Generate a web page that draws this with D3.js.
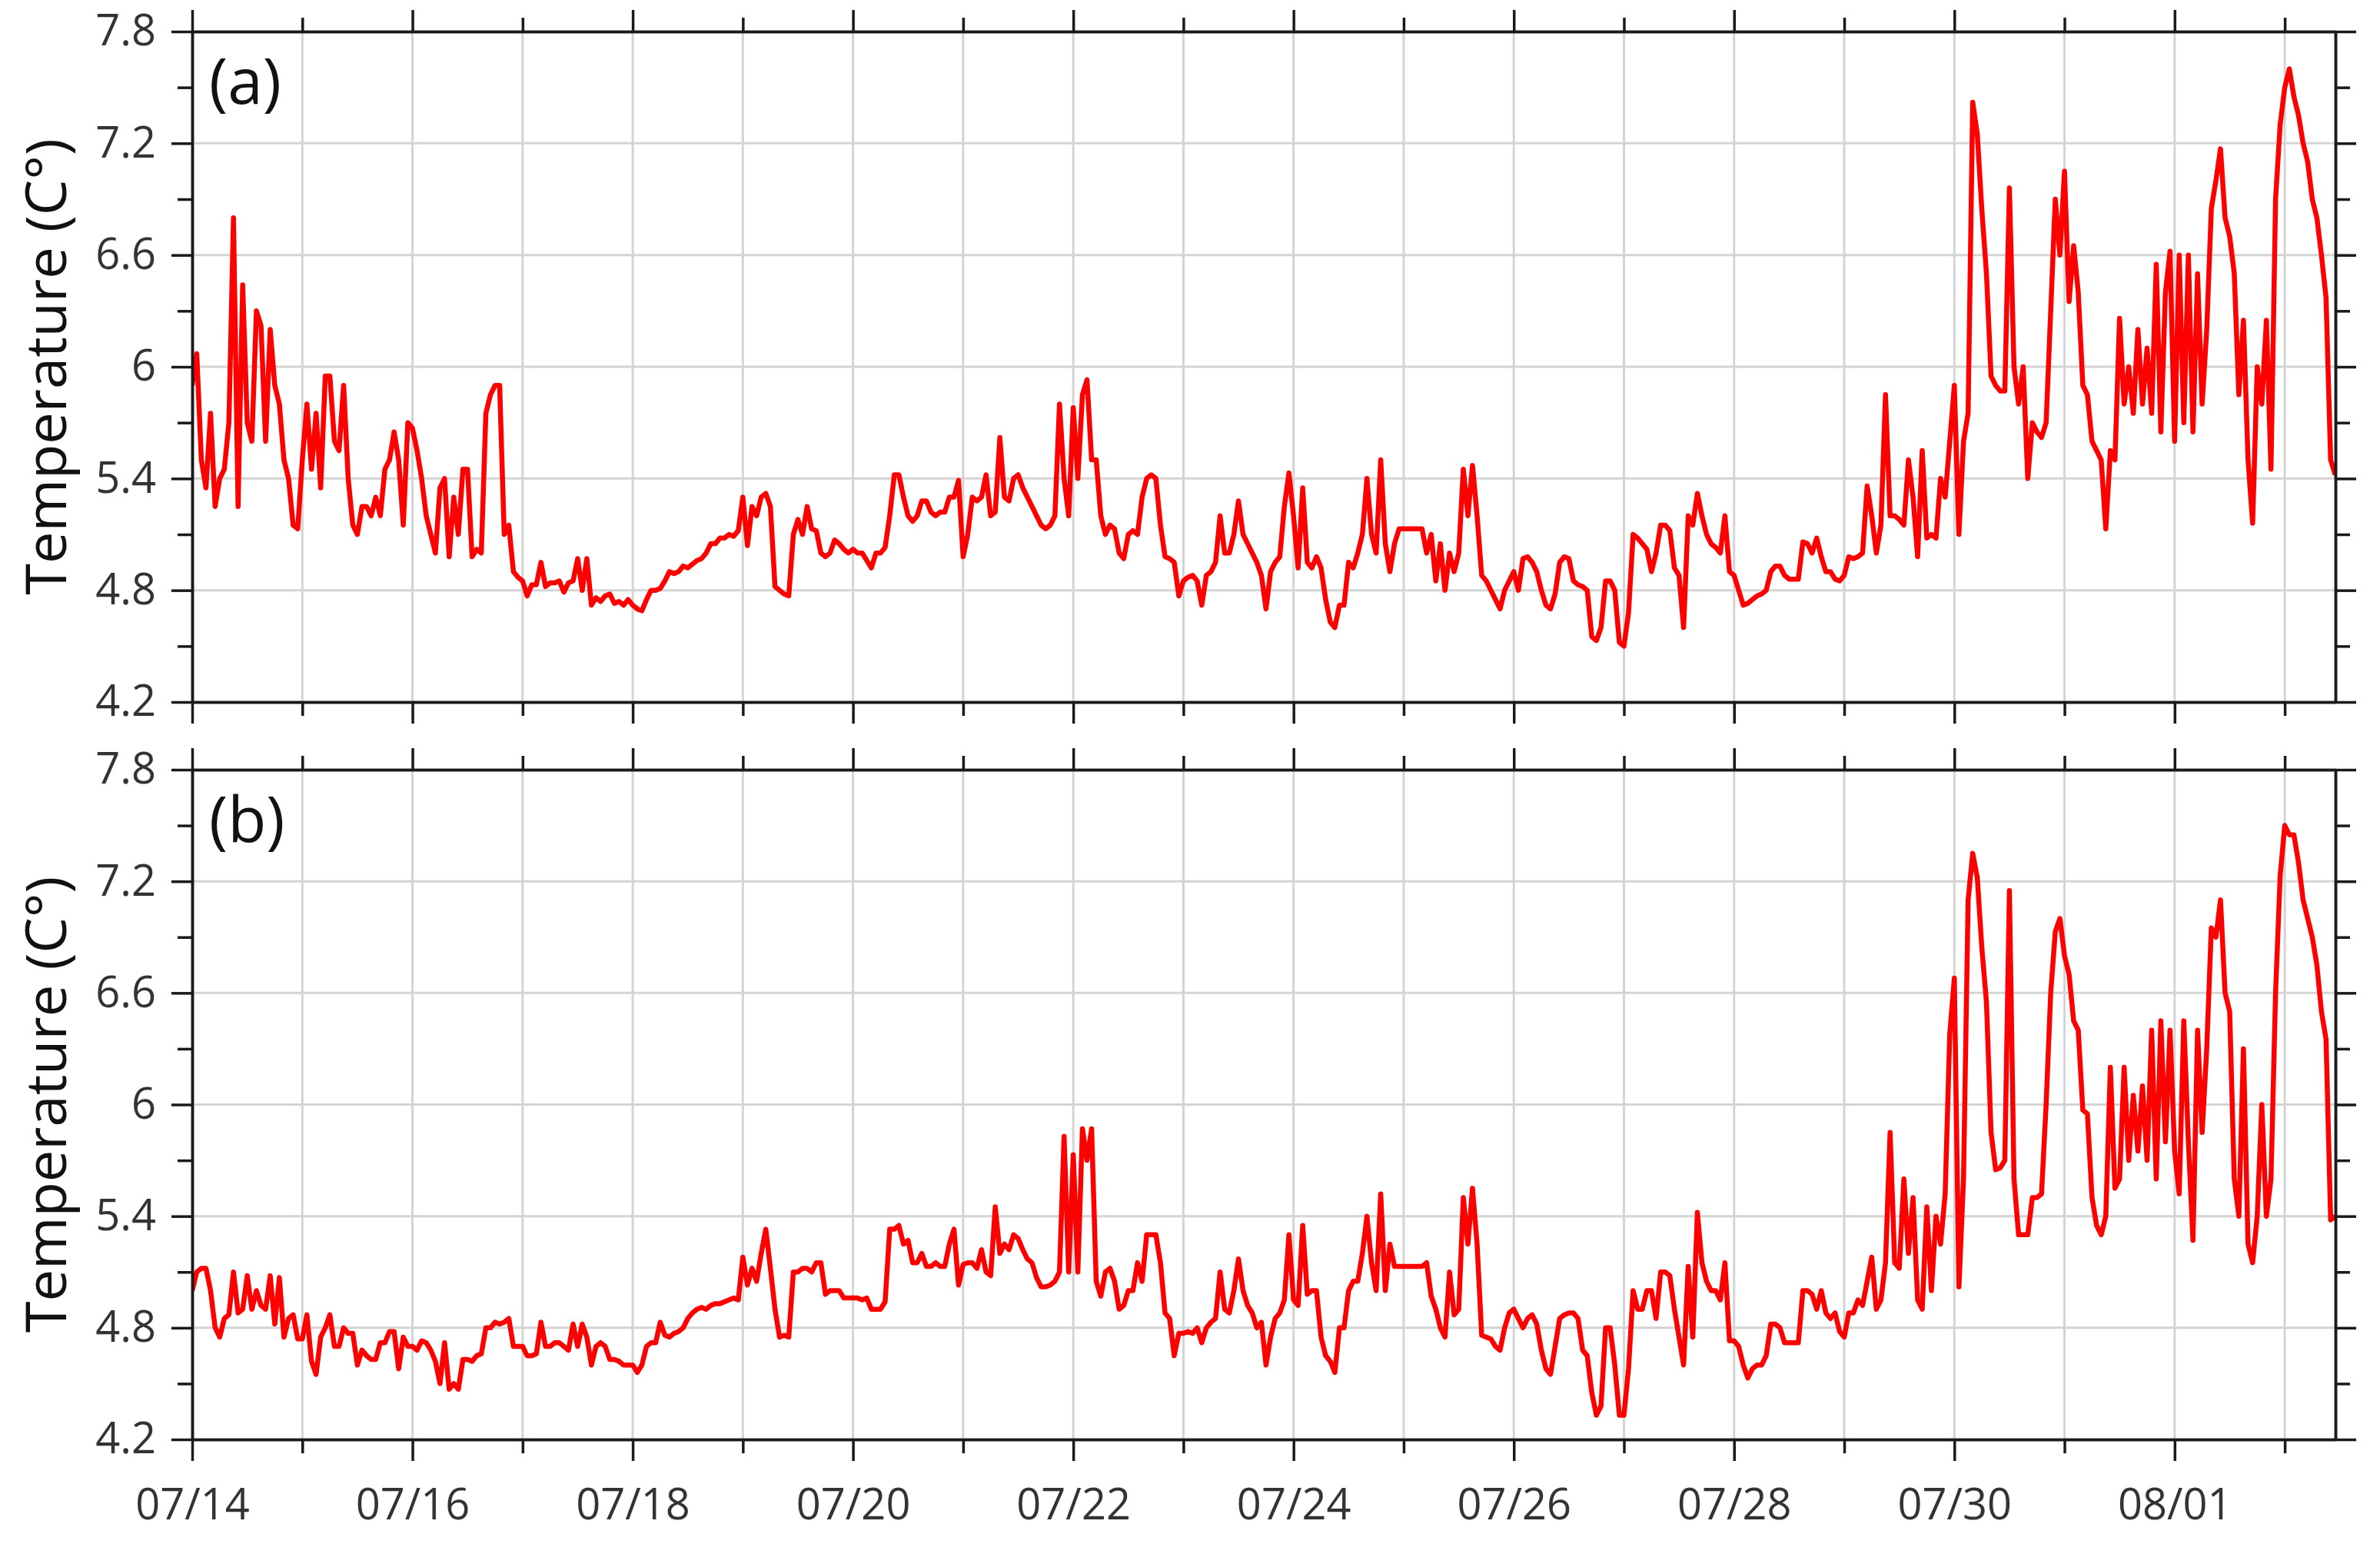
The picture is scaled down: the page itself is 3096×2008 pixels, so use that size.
<!DOCTYPE html>
<html>
<head>
<meta charset="utf-8">
<script src="https://cdn.jsdelivr.net/npm/d3@7"></script>
<style>
  html, body { margin: 0; padding: 0; background: #fff; }
  svg { display: block; font-family: "Open Sans", "Noto Sans", sans-serif; }
</style>
</head>
<body>
<svg id="chart" width="3096" height="2008"></svg>
<script>
// hourly readings, starting 07/14 00:00 (one row per day)
const startDate = Date.UTC(2019, 6, 14);
const stepHours = 1;
const endDays = 19.46;

const tempA = [
  5.9, 6.07, 5.5, 5.35, 5.75, 5.25, 5.4, 5.45, 5.7, 6.8, 5.25, 6.44, 5.7, 5.6, 6.3, 6.22, 5.6, 6.2, 5.9, 5.8, 5.5, 5.4, 5.15, 5.13,
  5.5, 5.8, 5.45, 5.75, 5.35, 5.95, 5.95, 5.6, 5.55, 5.9, 5.4, 5.15, 5.1, 5.25, 5.25, 5.2, 5.3, 5.2, 5.45, 5.5, 5.65, 5.5, 5.15, 5.7,
  5.67, 5.55, 5.4, 5.2, 5.1, 5.0, 5.35, 5.4, 4.98, 5.3, 5.1, 5.45, 5.45, 4.98, 5.02, 5.0, 5.75, 5.85, 5.9, 5.9, 5.1, 5.15, 4.9, 4.87,
  4.85, 4.77, 4.83, 4.83, 4.95, 4.82, 4.84, 4.84, 4.85, 4.79, 4.84, 4.85, 4.97, 4.8, 4.97, 4.72, 4.76, 4.74, 4.77, 4.78, 4.73, 4.74, 4.72, 4.75,
  4.72, 4.7, 4.69, 4.75, 4.8, 4.8, 4.81, 4.85, 4.9, 4.89, 4.9, 4.93, 4.92, 4.94, 4.96, 4.97, 5.0, 5.05, 5.05, 5.08, 5.08, 5.1, 5.09, 5.12,
  5.3, 5.04, 5.25, 5.2, 5.3, 5.32, 5.25, 4.82, 4.8, 4.78, 4.77, 5.1, 5.18, 5.1, 5.25, 5.13, 5.12, 5.0, 4.98, 5.0, 5.07, 5.05, 5.02, 5.0,
  5.02, 5.0, 5.0, 4.96, 4.92, 5.0, 5.0, 5.03, 5.2, 5.42, 5.42, 5.3, 5.2, 5.17, 5.2, 5.28, 5.28, 5.22, 5.2, 5.22, 5.22, 5.3, 5.3, 5.39,
  4.98, 5.1, 5.3, 5.28, 5.3, 5.42, 5.2, 5.22, 5.62, 5.3, 5.28, 5.4, 5.42, 5.35, 5.3, 5.25, 5.2, 5.15, 5.13, 5.15, 5.2, 5.8, 5.4, 5.2,
  5.78, 5.4, 5.85, 5.93, 5.5, 5.5, 5.2, 5.1, 5.15, 5.13, 5.0, 4.97, 5.1, 5.12, 5.1, 5.3, 5.4, 5.42, 5.4, 5.15, 4.98, 4.97, 4.95, 4.77,
  4.85, 4.87, 4.88, 4.85, 4.72, 4.88, 4.9, 4.95, 5.2, 5.0, 5.0, 5.1, 5.28, 5.1, 5.05, 5.0, 4.95, 4.88, 4.7, 4.9, 4.95, 4.98, 5.25, 5.43,
  5.2, 4.92, 5.35, 4.95, 4.92, 4.98, 4.92, 4.75, 4.63, 4.6, 4.72, 4.72, 4.95, 4.92, 5.0, 5.1, 5.4, 5.1, 5.0, 5.5, 5.05, 4.9, 5.05, 5.13,
  5.13, 5.13, 5.13, 5.13, 5.13, 5.0, 5.1, 4.85, 5.05, 4.8, 5.0, 4.9, 5.0, 5.45, 5.2, 5.47, 5.2, 4.88, 4.85, 4.8, 4.75, 4.7, 4.8, 4.85,
  4.9, 4.8, 4.97, 4.98, 4.95, 4.9, 4.8, 4.72, 4.7, 4.78, 4.95, 4.98, 4.97, 4.85, 4.83, 4.82, 4.8, 4.55, 4.53, 4.6, 4.85, 4.85, 4.8, 4.52,
  4.5, 4.68, 5.1, 5.08, 5.05, 5.02, 4.9, 5.0, 5.15, 5.15, 5.12, 4.92, 4.88, 4.6, 5.2, 5.15, 5.32, 5.2, 5.1, 5.05, 5.03, 5.0, 5.2, 4.9,
  4.88, 4.8, 4.72, 4.73, 4.75, 4.77, 4.78, 4.8, 4.9, 4.93, 4.93, 4.88, 4.86, 4.86, 4.86, 5.06, 5.05, 5.0, 5.08, 4.98, 4.9, 4.9, 4.86, 4.85,
  4.88, 4.98, 4.97, 4.98, 5.0, 5.36, 5.2, 5.0, 5.15, 5.85, 5.2, 5.2, 5.18, 5.15, 5.5, 5.3, 4.98, 5.55, 5.08, 5.1, 5.08, 5.4, 5.3, 5.6,
  5.9, 5.1, 5.6, 5.75, 7.42, 7.25, 6.84, 6.5, 5.95, 5.9, 5.87, 5.87, 6.96, 6.0, 5.8, 6.0, 5.4, 5.7, 5.65, 5.62, 5.7, 6.3, 6.9, 6.6,
  7.05, 6.35, 6.65, 6.4, 5.9, 5.85, 5.6, 5.55, 5.5, 5.13, 5.55, 5.5, 6.26, 5.8, 6.0, 5.75, 6.2, 5.8, 6.1, 5.75, 6.55, 5.65, 6.4, 6.62,
  5.6, 6.6, 5.7, 6.6, 5.65, 6.5, 5.8, 6.2, 6.85, 7.0, 7.17, 6.8, 6.7, 6.5, 5.85, 6.25, 5.5, 5.16, 6.0, 5.8, 6.25, 5.45, 6.9, 7.3,
  7.5, 7.6, 7.45, 7.35, 7.2, 7.1, 6.9, 6.8, 6.6, 6.37, 5.5, 5.42
];

const tempB = [
  5.0, 5.1, 5.12, 5.12, 5.0, 4.8, 4.75, 4.85, 4.87, 5.1, 4.88, 4.9, 5.08, 4.9, 5.0, 4.92, 4.9, 5.08, 4.82, 5.07, 4.75, 4.85, 4.87, 4.74,
  4.74, 4.87, 4.62, 4.55, 4.75, 4.8, 4.87, 4.7, 4.7, 4.8, 4.77, 4.77, 4.6, 4.68, 4.65, 4.63, 4.63, 4.72, 4.72, 4.78, 4.78, 4.58, 4.75, 4.7,
  4.7, 4.68, 4.73, 4.72, 4.68, 4.62, 4.5, 4.72, 4.47, 4.5, 4.47, 4.63, 4.63, 4.62, 4.65, 4.66, 4.8, 4.8, 4.83, 4.82, 4.83, 4.85, 4.7, 4.7,
  4.7, 4.65, 4.65, 4.66, 4.83, 4.7, 4.7, 4.72, 4.72, 4.7, 4.68, 4.82, 4.7, 4.82, 4.75, 4.6, 4.7, 4.72, 4.7, 4.63, 4.63, 4.62, 4.6, 4.6,
  4.6, 4.56, 4.6, 4.7, 4.72, 4.72, 4.83, 4.76, 4.75, 4.77, 4.78, 4.8, 4.85, 4.88, 4.9, 4.91, 4.9, 4.92, 4.93, 4.93, 4.94, 4.95, 4.96, 4.95,
  5.18, 5.03, 5.12, 5.05, 5.2, 5.33, 5.12, 4.9, 4.75, 4.76, 4.75, 5.1, 5.1, 5.12, 5.12, 5.1, 5.15, 5.15, 4.98, 5.0, 5.0, 5.0, 4.96, 4.96,
  4.96, 4.96, 4.95, 4.96, 4.9, 4.9, 4.9, 4.94, 5.33, 5.33, 5.35, 5.25, 5.27, 5.15, 5.15, 5.2, 5.13, 5.13, 5.15, 5.13, 5.13, 5.25, 5.33, 5.03,
  5.14, 5.15, 5.15, 5.12, 5.22, 5.1, 5.08, 5.45, 5.2, 5.25, 5.22, 5.3, 5.28, 5.22, 5.17, 5.15, 5.07, 5.02, 5.02, 5.03, 5.05, 5.1, 5.83, 5.1,
  5.73, 5.1, 5.87, 5.7, 5.87, 5.05, 4.97, 5.1, 5.12, 5.05, 4.9, 4.92, 5.0, 5.0, 5.15, 5.05, 5.3, 5.3, 5.3, 5.15, 4.88, 4.85, 4.65, 4.77,
  4.77, 4.78, 4.77, 4.8, 4.72, 4.8, 4.83, 4.85, 5.1, 4.9, 4.88, 5.0, 5.17, 5.0, 4.92, 4.88, 4.8, 4.83, 4.6, 4.75, 4.85, 4.88, 4.95, 5.3,
  4.95, 4.92, 5.35, 4.98, 5.0, 5.0, 4.75, 4.65, 4.62, 4.56, 4.8, 4.8, 5.0, 5.05, 5.05, 5.2, 5.4, 5.15, 5.0, 5.52, 5.0, 5.25, 5.13, 5.13,
  5.13, 5.13, 5.13, 5.13, 5.13, 5.15, 4.97, 4.9, 4.8, 4.75, 5.1, 4.87, 4.9, 5.5, 5.25, 5.55, 5.25, 4.76, 4.75, 4.74, 4.7, 4.68, 4.8, 4.88,
  4.9, 4.85, 4.8, 4.85, 4.87, 4.82, 4.68, 4.58, 4.55, 4.7, 4.85, 4.87, 4.88, 4.88, 4.85, 4.68, 4.65, 4.45, 4.33, 4.38, 4.8, 4.8, 4.6, 4.33,
  4.33, 4.58, 5.0, 4.9, 4.9, 5.0, 5.0, 4.85, 5.1, 5.1, 5.08, 4.9, 4.75, 4.6, 5.13, 4.75, 5.42, 5.15, 5.05, 5.0, 5.0, 4.95, 5.15, 4.73,
  4.73, 4.7, 4.6, 4.53, 4.58, 4.6, 4.6, 4.65, 4.82, 4.82, 4.8, 4.72, 4.72, 4.72, 4.72, 5.0, 5.0, 4.98, 4.9, 5.0, 4.88, 4.85, 4.88, 4.78,
  4.75, 4.88, 4.88, 4.95, 4.92, 5.05, 5.18, 4.9, 4.95, 5.15, 5.85, 5.15, 5.12, 5.6, 5.2, 5.5, 4.95, 4.9, 5.45, 5.0, 5.4, 5.25, 5.52, 6.38,
  6.68, 5.02, 5.6, 7.1, 7.35, 7.22, 6.84, 6.55, 5.85, 5.65, 5.66, 5.7, 7.15, 5.6, 5.3, 5.3, 5.3, 5.5, 5.5, 5.52, 6.0, 6.6, 6.93, 7.0,
  6.8, 6.7, 6.45, 6.4, 5.97, 5.95, 5.5, 5.35, 5.3, 5.4, 6.2, 5.55, 5.6, 6.2, 5.7, 6.05, 5.75, 6.1, 5.7, 6.4, 5.6, 6.45, 5.8, 6.4,
  5.75, 5.52, 6.45, 5.8, 5.27, 6.4, 5.85, 6.3, 6.95, 6.9, 7.1, 6.6, 6.5, 5.6, 5.4, 6.3, 5.25, 5.15, 5.4, 6.0, 5.4, 5.6, 6.6, 7.23,
  7.5, 7.45, 7.45, 7.3, 7.1, 7.0, 6.9, 6.75, 6.5, 6.35, 5.38, 5.4
];

const yTicks = [4.2, 4.8, 5.4, 6, 6.6, 7.2, 7.8];
const yMinor = [4.5, 5.1, 5.7, 6.3, 6.9, 7.5];
const panelLabels = ["(a)", "(b)"];
const yTitle = "Temperature (C\u00b0)";

const svg = d3.select("#chart");
const left = 250, right = 3038;
const panels = [
  { label: panelLabels[0], values: tempA, top: 41, bottom: 913 },
  { label: panelLabels[1], values: tempB, top: 1001, bottom: 1872 }
];

const hour = 3600 * 1000;
const x = d3.scaleUtc()
  .domain([new Date(startDate), new Date(startDate + endDays * 24 * hour)])
  .range([left, right]);

const days = d3.utcDay.range(new Date(startDate), x.domain()[1]);
const majorDays = days.filter((d, i) => i % 2 === 0);
const minorDays = days.filter((d, i) => i % 2 === 1);

function styleAxis(g) {
  g.selectAll("path.domain").attr("stroke", "#1a1a1a").attr("stroke-width", 3.5);
  g.selectAll(".tick line").attr("stroke", "#1a1a1a").attr("stroke-width", 3.5);
  g.selectAll(".tick text")
    .attr("fill", "#333")
    .attr("font-size", 56)
    .attr("font-family", "'Open Sans', sans-serif");
}

panels.forEach((p, pi) => {
  const y = d3.scaleLinear().domain([4.2, 7.8]).range([p.bottom, p.top]);
  const g = svg.append("g");

  // grid
  g.selectAll("line.vgrid")
    .data(days.slice(1))
    .join("line")
    .attr("x1", (d) => x(d))
    .attr("x2", (d) => x(d))
    .attr("y1", p.top)
    .attr("y2", p.bottom)
    .attr("stroke", "#d4d4d4")
    .attr("stroke-width", 3);

  g.selectAll("line.hgrid")
    .data(yTicks.slice(1, -1))
    .join("line")
    .attr("x1", left)
    .attr("x2", right)
    .attr("y1", (d) => y(d))
    .attr("y2", (d) => y(d))
    .attr("stroke", "#d4d4d4")
    .attr("stroke-width", 3);

  // data line
  const clipId = "clip" + pi;
  svg.append("clipPath").attr("id", clipId)
    .append("rect")
    .attr("x", left).attr("y", p.top)
    .attr("width", right - left).attr("height", p.bottom - p.top);

  const pts = p.values.map((v, i) => ({ t: new Date(startDate + i * stepHours * hour), v: v }));
  const line = d3.line().x((d) => x(d.t)).y((d) => y(d.v));
  g.append("path")
    .datum(pts)
    .attr("clip-path", "url(#" + clipId + ")")
    .attr("d", line)
    .attr("fill", "none")
    .attr("stroke", "#ff0000")
    .attr("stroke-width", 6.5)
    .attr("stroke-linejoin", "round");

  // axes: bottom
  const showLabels = pi === panels.length - 1;
  g.append("g")
    .attr("transform", `translate(0,${p.bottom})`)
    .call(d3.axisBottom(x).tickValues(minorDays).tickSize(18).tickSizeOuter(0).tickFormat(""))
    .call(styleAxis);
  g.append("g")
    .attr("transform", `translate(0,${p.bottom})`)
    .call(d3.axisBottom(x).tickValues(majorDays).tickSize(28).tickSizeOuter(0).tickPadding(36)
      .tickFormat(showLabels ? d3.utcFormat("%m/%d") : ""))
    .call(styleAxis);

  // top
  g.append("g")
    .attr("transform", `translate(0,${p.top})`)
    .call(d3.axisTop(x).tickValues(minorDays).tickSize(18).tickSizeOuter(0).tickFormat(""))
    .call(styleAxis);
  g.append("g")
    .attr("transform", `translate(0,${p.top})`)
    .call(d3.axisTop(x).tickValues(majorDays).tickSize(28).tickSizeOuter(0).tickFormat(""))
    .call(styleAxis);

  // left
  g.append("g")
    .attr("transform", `translate(${left},0)`)
    .call(d3.axisLeft(y).tickValues(yMinor).tickSize(19).tickSizeOuter(0).tickFormat(""))
    .call(styleAxis);
  g.append("g")
    .attr("transform", `translate(${left},0)`)
    .call(d3.axisLeft(y).tickValues(yTicks).tickSize(27).tickSizeOuter(0).tickPadding(20)
      .tickFormat(d3.format("~g")))
    .call(styleAxis);

  // right
  g.append("g")
    .attr("transform", `translate(${right},0)`)
    .call(d3.axisRight(y).tickValues(yMinor).tickSize(19).tickSizeOuter(0).tickFormat(""))
    .call(styleAxis);
  g.append("g")
    .attr("transform", `translate(${right},0)`)
    .call(d3.axisRight(y).tickValues(yTicks).tickSize(27).tickSizeOuter(0).tickFormat(""))
    .call(styleAxis);

  // panel tag
  g.append("text")
    .attr("x", 272)
    .attr("y", p.top + 94)
    .attr("font-size", 82)
    .attr("fill", "#111")
    .text(p.label);

  // y title
  g.append("text")
    .attr("transform", `translate(66,${(p.top + p.bottom) / 2}) rotate(-90)`)
    .attr("text-anchor", "middle")
    .attr("dominant-baseline", "middle")
    .attr("font-size", 74)
    .attr("fill", "#111")
    .text(yTitle);
});
</script>
</body>
</html>
